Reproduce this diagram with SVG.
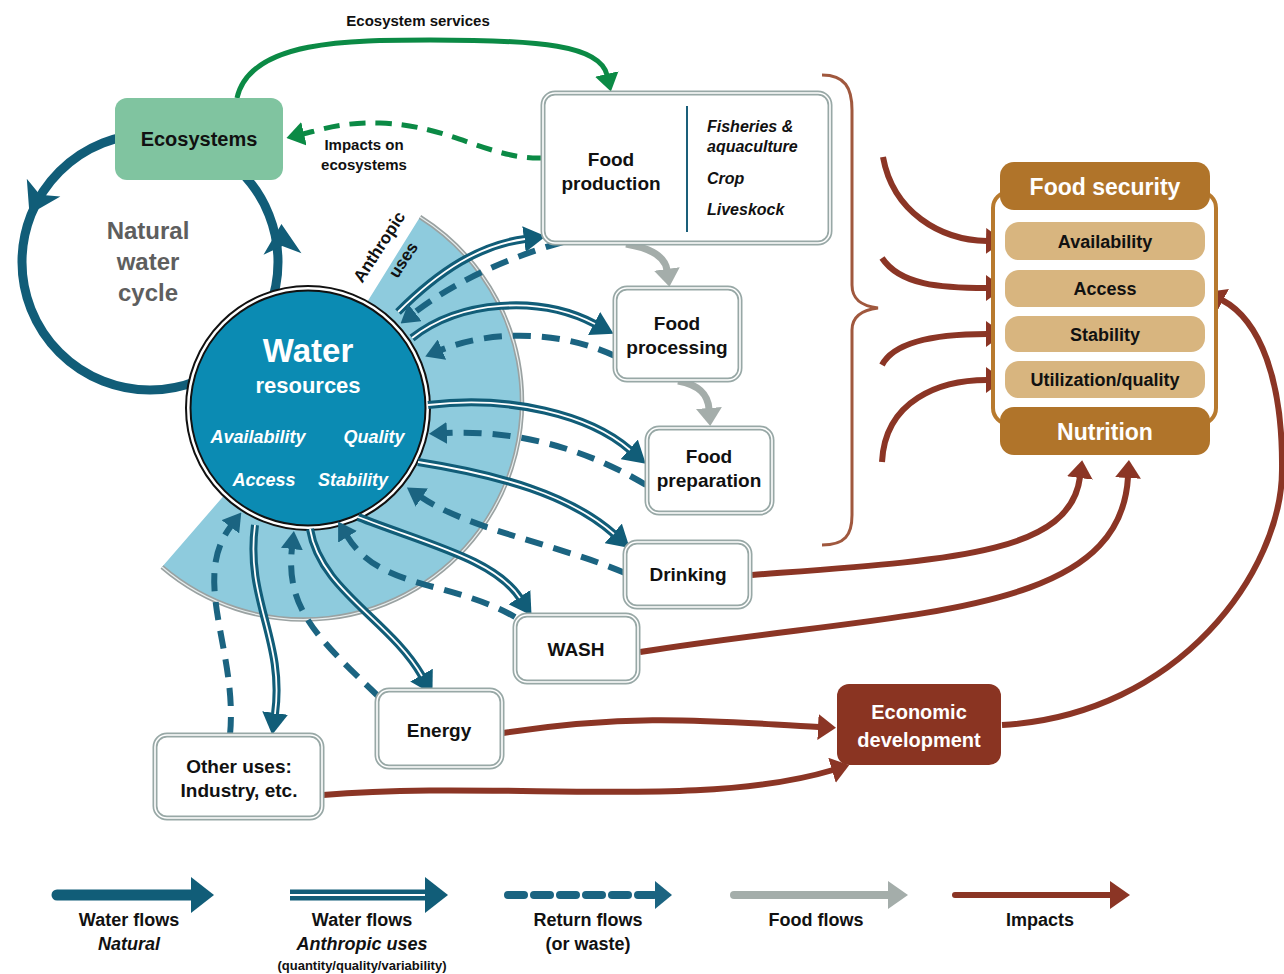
<svg xmlns="http://www.w3.org/2000/svg" width="1284" height="974" viewBox="0 0 1284 974">
<style>
text{font-family:"Liberation Sans",Arial,sans-serif;font-weight:bold;text-anchor:middle;fill:#111}
.bx{fill:#fff;stroke:#98a8a6;stroke-width:5}
.bxi{fill:none;stroke:#fff;stroke-width:1.6}
.lbl{font-size:19px}
.wo{fill:none;stroke:#115d78;stroke-width:8}
.wi{fill:none;stroke:#fff;stroke-width:1.8}
.ret{fill:none;stroke:#1b6481;stroke-width:6;stroke-dasharray:18 11}
.imp{fill:none;stroke:#8b3525;stroke-width:6}
.food{fill:none;stroke:#a4adaa;stroke-width:7}
.it{font-style:italic}
.fsi{fill:#d8b57f}
.fsh{fill:#b0742a}
</style>
<defs>
<marker id="mW" markerUnits="userSpaceOnUse" viewBox="0 0 22 26" markerWidth="22" markerHeight="26" refX="1" refY="13" orient="auto"><path d="M0,0 L22,13 L0,26 z" fill="#115d78"/></marker>
<marker id="mR" markerUnits="userSpaceOnUse" viewBox="0 0 18 22" markerWidth="18" markerHeight="22" refX="1" refY="11" orient="auto"><path d="M0,0 L18,11 L0,22 z" fill="#1b6481"/></marker>
<marker id="mI" markerUnits="userSpaceOnUse" viewBox="0 0 18 26" markerWidth="18" markerHeight="26" refX="1" refY="13" orient="auto"><path d="M0,0 L18,13 L0,26 z" fill="#8b3525"/></marker>
<marker id="mG" markerUnits="userSpaceOnUse" viewBox="0 0 18 24" markerWidth="18" markerHeight="24" refX="1" refY="12" orient="auto"><path d="M0,0 L18,12 L0,24 z" fill="#0b8a45"/></marker>
<marker id="mF" markerUnits="userSpaceOnUse" viewBox="0 0 18 26" markerWidth="18" markerHeight="26" refX="1" refY="13" orient="auto"><path d="M0,0 L18,13 L0,26 z" fill="#a4adaa"/></marker>
<path id="nh" d="M-14,-19 L16,0 L-14,19 L-6,0 z" fill="#115d78"/>
</defs>

<!-- Anthropic uses sector -->
<g id="sector">
<path d="M305,402 L420,217 A218,218 0 1 1 162,567 Z" fill="#8ecbdd"/>
<path d="M420,217 A218,218 0 1 1 162,567" fill="none" stroke="#9aa2a2" stroke-width="4.5"/>
<path d="M420,217 A218,218 0 1 1 162,567" fill="none" stroke="#e8eeee" stroke-width="1.2"/>
<text font-size="17" transform="translate(384,250) rotate(-57)">Anthropic</text>
<text font-size="17" transform="translate(408,263) rotate(-57)">uses</text>
</g>

<!-- Natural water cycle -->
<g id="natural-cycle">
<circle cx="150" cy="262" r="128" fill="none" stroke="#115d78" stroke-width="9"/>
<use href="#nh" transform="translate(37,200) rotate(118)"/>
<use href="#nh" transform="translate(282,240) rotate(-92)"/>
<text x="148" y="239" font-size="24" style="fill:#5e5e5e">Natural</text>
<text x="148" y="270" font-size="24" style="fill:#5e5e5e">water</text>
<text x="148" y="301" font-size="24" style="fill:#5e5e5e">cycle</text>
</g>

<!-- Water resources -->
<g id="water-resources">
<circle cx="308" cy="408" r="122" fill="#fff" stroke="#111" stroke-width="2"/>
<circle cx="308" cy="408" r="117.5" fill="#0b8bb3" stroke="#111" stroke-width="2"/>
<text x="308" y="362" font-size="33" style="fill:#fff">Water</text>
<text x="308" y="393" font-size="22" style="fill:#fff">resources</text>
<text x="258" y="443" font-size="18" class="it" style="fill:#fff">Availability</text>
<text x="374" y="443" font-size="18" class="it" style="fill:#fff">Quality</text>
<text x="264" y="486" font-size="18" class="it" style="fill:#fff">Access</text>
<text x="353" y="486" font-size="18" class="it" style="fill:#fff">Stability</text>
</g>

<!-- Connectors -->
<g id="connectors">
<!-- anthropic water flows -->
<path class="wo" d="M398,312 C440,270 480,245 525,239" marker-end="url(#mW)"/>
<path class="wi" d="M398,312 C440,270 480,245 525,239"/>
<path class="wo" d="M412,338 C460,300 540,295 595,324" marker-end="url(#mW)"/>
<path class="wi" d="M412,338 C460,300 540,295 595,324"/>
<path class="wo" d="M428,405 C510,395 590,415 630,450" marker-end="url(#mW)"/>
<path class="wi" d="M428,405 C510,395 590,415 630,450"/>
<path class="wo" d="M418,462 C500,475 570,495 614,534" marker-end="url(#mW)"/>
<path class="wi" d="M418,462 C500,475 570,495 614,534"/>
<path class="wo" d="M358,517 C430,545 495,560 520,598" marker-end="url(#mW)"/>
<path class="wi" d="M358,517 C430,545 495,560 520,598"/>
<path class="wo" d="M310,529 C320,590 390,620 422,676" marker-end="url(#mW)"/>
<path class="wi" d="M310,529 C320,590 390,620 422,676"/>
<path class="wo" d="M255,525 C245,600 285,640 275,714" marker-end="url(#mW)"/>
<path class="wi" d="M255,525 C245,600 285,640 275,714"/>
<!-- return flows -->
<path class="ret" d="M563,242 C500,260 450,285 414,313" marker-end="url(#mR)"/>
<path class="ret" d="M615,356 C560,330 490,330 441,350" marker-end="url(#mR)"/>
<path class="ret" d="M646,485 C580,445 510,430 446,433" marker-end="url(#mR)"/>
<path class="ret" d="M625,573 C560,545 470,530 421,497" marker-end="url(#mR)"/>
<path class="ret" d="M515,617 C450,580 380,590 347,536" marker-end="url(#mR)"/>
<path class="ret" d="M379,697 C320,640 285,610 292,548" marker-end="url(#mR)"/>
<path class="ret" d="M230,735 C238,650 190,580 231,526" marker-end="url(#mR)"/>
<!-- food flows -->
<path class="food" d="M626,244 C650,248 665,256 667,270" marker-end="url(#mF)"/>
<path class="food" d="M678,381 C700,385 708,395 709,409" marker-end="url(#mF)"/>
<!-- ecosystem services / impacts -->
<path d="M237,98 C250,40 350,40 430,40 C540,40 600,45 607,75" fill="none" stroke="#0b8a45" stroke-width="5" marker-end="url(#mG)"/>
<path d="M543,158 C490,160 450,125 380,123 C340,122 320,130 303,134" fill="none" stroke="#0b8a45" stroke-width="5" stroke-dasharray="16 10" marker-end="url(#mG)"/>
<!-- brace -->
<path d="M822,75 C845,75 852,88 852,110 L852,285 C852,300 862,306 878,308 C862,310 852,316 852,330 L852,515 C852,535 845,545 822,545" fill="none" stroke="#a0583e" stroke-width="3"/>
<!-- impacts -->
<path class="imp" d="M883,157 C893,212 940,240 987,241" marker-end="url(#mI)"/>
<path class="imp" d="M882,258 C900,285 940,288 987,288" marker-end="url(#mI)"/>
<path class="imp" d="M882,365 C895,340 940,334 987,334" marker-end="url(#mI)"/>
<path class="imp" d="M882,462 C885,400 940,380 987,380" marker-end="url(#mI)"/>
<path class="imp" d="M752,575 C950,560 1070,555 1080,477" marker-end="url(#mI)"/>
<path class="imp" d="M640,652 C900,610 1120,620 1128,477" marker-end="url(#mI)"/>
<path class="imp" d="M503,733 C640,712 720,722 819,727" marker-end="url(#mI)"/>
<path class="imp" d="M323,795 C500,780 700,810 833,770" marker-end="url(#mI)"/>
<path class="imp" d="M1002,725 C1180,715 1282,570 1282,470 C1283,380 1260,320 1222,300" marker-end="url(#mI)"/>
</g>

<text x="418" y="26" font-size="15">Ecosystem services</text>
<text x="364" y="150" font-size="15">Impacts on</text>
<text x="364" y="170" font-size="15">ecosystems</text>

<g id="ecosystems">
<rect x="115" y="98" width="168" height="82" rx="12" fill="#80c4a0"/>
<text x="199" y="146" font-size="20">Ecosystems</text>
</g>

<g id="food-production">
<rect class="bx" x="543" y="93" width="287" height="150" rx="12"/>
<rect class="bxi" x="543" y="93" width="287" height="150" rx="12"/>
<line x1="687" y1="106" x2="687" y2="232" stroke="#1a5f7a" stroke-width="2"/>
<text class="lbl" x="611" y="166">Food</text>
<text class="lbl" x="611" y="190">production</text>
<g font-size="16">
<text x="707" y="132" style="text-anchor:start;font-style:italic">Fisheries &amp;</text>
<text x="707" y="152" style="text-anchor:start;font-style:italic">aquaculture</text>
<text x="707" y="184" style="text-anchor:start;font-style:italic">Crop</text>
<text x="707" y="215" style="text-anchor:start;font-style:italic">Liveskock</text>
</g>
</g>

<g id="food-processing">
<rect class="bx" x="615" y="288" width="125" height="92" rx="12"/>
<rect class="bxi" x="615" y="288" width="125" height="92" rx="12"/>
<text class="lbl" x="677" y="330">Food</text>
<text class="lbl" x="677" y="354">processing</text>
</g>

<g id="food-preparation">
<rect class="bx" x="647" y="428" width="125" height="85" rx="12"/>
<rect class="bxi" x="647" y="428" width="125" height="85" rx="12"/>
<text class="lbl" x="709" y="463">Food</text>
<text class="lbl" x="709" y="487">preparation</text>
</g>

<g id="drinking">
<rect class="bx" x="625" y="542" width="125" height="65" rx="12"/>
<rect class="bxi" x="625" y="542" width="125" height="65" rx="12"/>
<text class="lbl" x="688" y="581">Drinking</text>
</g>

<g id="wash">
<rect class="bx" x="515" y="615" width="123" height="67" rx="12"/>
<rect class="bxi" x="515" y="615" width="123" height="67" rx="12"/>
<text class="lbl" x="576" y="656">WASH</text>
</g>

<g id="energy">
<rect class="bx" x="377" y="690" width="125" height="77" rx="12"/>
<rect class="bxi" x="377" y="690" width="125" height="77" rx="12"/>
<text class="lbl" x="439" y="737">Energy</text>
</g>

<g id="other-uses">
<rect class="bx" x="155" y="735" width="167" height="83" rx="12"/>
<rect class="bxi" x="155" y="735" width="167" height="83" rx="12"/>
<text class="lbl" x="239" y="773">Other uses:</text>
<text class="lbl" x="239" y="797">Industry, etc.</text>
</g>

<g id="food-security">
<rect x="993" y="192" width="223" height="232" rx="16" fill="#fff" stroke="#b87a2e" stroke-width="4"/>
<rect class="fsh" x="1000" y="162" width="210" height="48" rx="14"/>
<text x="1105" y="195" font-size="23" style="fill:#fff">Food security</text>
<rect class="fsi" x="1005" y="222" width="200" height="38" rx="14"/>
<text x="1105" y="248" font-size="18">Availability</text>
<rect class="fsi" x="1005" y="270" width="200" height="37" rx="14"/>
<text x="1105" y="295" font-size="18">Access</text>
<rect class="fsi" x="1005" y="316" width="200" height="36" rx="14"/>
<text x="1105" y="341" font-size="18">Stability</text>
<rect class="fsi" x="1005" y="361" width="200" height="37" rx="14"/>
<text x="1105" y="386" font-size="18">Utilization/quality</text>
<rect class="fsh" x="1000" y="407" width="210" height="48" rx="14"/>
<text x="1105" y="440" font-size="23" style="fill:#fff">Nutrition</text>
</g>

<g id="economic-development">
<rect x="837" y="684" width="164" height="81" rx="12" fill="#8a3422"/>
<text x="919" y="719" font-size="20" style="fill:#fff">Economic</text>
<text x="919" y="747" font-size="20" style="fill:#fff">development</text>
</g>

<!-- Legend -->
<g id="legend">
<line x1="57" y1="895" x2="192" y2="895" stroke="#115d78" stroke-width="11" stroke-linecap="round"/>
<path d="M191,877 L214,895 L191,913 z" fill="#115d78"/>
<line x1="290" y1="895" x2="426" y2="895" stroke="#115d78" stroke-width="11"/>
<line x1="290" y1="895" x2="426" y2="895" stroke="#fff" stroke-width="2.2"/>
<path d="M425,877 L448,895 L425,913 z" fill="#115d78"/>
<line x1="508" y1="895" x2="655" y2="895" stroke="#1b6481" stroke-width="8" stroke-dasharray="16 10" stroke-linecap="round"/>
<path d="M655,881 L672,895 L655,909 z" fill="#1b6481"/>
<line x1="734" y1="895" x2="890" y2="895" stroke="#a4adaa" stroke-width="8" stroke-linecap="round"/>
<path d="M888,881 L908,895 L888,909 z" fill="#a4adaa"/>
<line x1="955" y1="895" x2="1112" y2="895" stroke="#8b3525" stroke-width="6" stroke-linecap="round"/>
<path d="M1110,881 L1130,895 L1110,909 z" fill="#8b3525"/>
<text x="129" y="926" font-size="18">Water flows</text>
<text x="129" y="950" font-size="18" class="it">Natural</text>
<text x="362" y="926" font-size="18">Water flows</text>
<text x="362" y="950" font-size="18" class="it">Anthropic uses</text>
<text x="362" y="970" font-size="13">(quantity/quality/variability)</text>
<text x="588" y="926" font-size="18">Return flows</text>
<text x="588" y="950" font-size="18">(or waste)</text>
<text x="816" y="926" font-size="18">Food flows</text>
<text x="1040" y="926" font-size="18">Impacts</text>
</g>
</svg>
